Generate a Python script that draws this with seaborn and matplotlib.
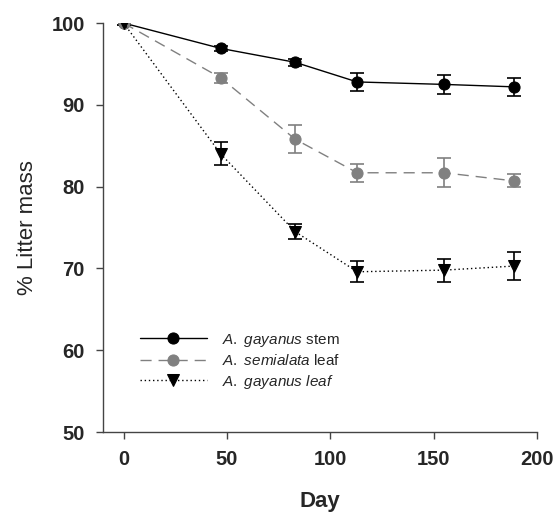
import numpy as np
import pandas as pd
import matplotlib
matplotlib.use('Agg')
import matplotlib.pyplot as plt
import seaborn as sns

# Data
days = [0, 47, 83, 113, 155, 189]
stem_mean = [100.0, 96.9, 95.2, 92.8, 92.5, 92.2]
stem_err = [0.2, 0.3, 0.4, 1.1, 1.15, 1.1]
semi_mean = [100.0, 93.3, 85.8, 81.7, 81.7, 80.7]
semi_err = [0.2, 0.65, 1.7, 1.1, 1.75, 0.8]
leaf_mean = [100.0, 84.0, 74.5, 69.6, 69.8, 70.3]
leaf_err = [0.2, 1.4, 0.9, 1.3, 1.4, 1.7]

labels = [r'$\it{A.\ gayanus}$ stem',
          r'$\it{A.\ semialata}$ leaf',
          r'$\it{A.\ gayanus\ leaf}$']

sns.set_style('ticks')
plt.rcParams['font.family'] = ['Liberation Sans', 'DejaVu Sans']
plt.rcParams['mathtext.fontset'] = 'custom'
plt.rcParams['mathtext.rm'] = 'Liberation Sans'
plt.rcParams['mathtext.it'] = 'Liberation Sans:italic'

fig = plt.figure(figsize=(5.56, 5.12), dpi=100)
ax = fig.add_axes([0.185, 0.156, 0.781, 0.799])

series = [
    (stem_mean, stem_err, 'black', 'o', '-', labels[0]),
    (semi_mean, semi_err, '#808080', 'o', (0, (8, 5)), labels[1]),
    (leaf_mean, leaf_err, 'black', 'v', (0, (1, 2)), labels[2]),
]

for mean, err, col, mk, ls, lab in series:
    df = pd.DataFrame({'day': days, 'mass': mean})
    ax.errorbar(df['day'], df['mass'], yerr=err, fmt='none', ecolor=col,
                elinewidth=1.2, capsize=5, capthick=1.2, zorder=2)
    sns.lineplot(data=df, x='day', y='mass', ax=ax, color=col, marker=mk,
                 linestyle=ls, linewidth=1.0, markersize=8,
                 markeredgecolor=col, markerfacecolor=col, label=lab,
                 zorder=3)

ax.set_xlim(-10, 200)
ax.set_ylim(50, 100)
ax.set_xticks([0, 50, 100, 150, 200])
ax.set_yticks([50, 60, 70, 80, 90, 100])
for lbl in ax.get_xticklabels() + ax.get_yticklabels():
    lbl.set_fontweight('bold')
ax.tick_params(axis='both', labelsize=14.5, length=5, width=1, color='#444444',
               pad=8)

ax.set_xlabel('Day', fontsize=16, fontweight='bold', labelpad=16)
ax.set_ylabel('% Litter mass', fontsize=16, labelpad=10)

for side in ['top', 'right']:
    ax.spines[side].set_visible(False)
for side in ['left', 'bottom']:
    ax.spines[side].set_color('#444444')
    ax.spines[side].set_linewidth(1)

leg = ax.legend(loc='lower left', bbox_to_anchor=(0.071, 0.086), frameon=False,
                fontsize=11, handlelength=4.4, handletextpad=1.0,
                labelspacing=0.3, borderaxespad=0)

fig.savefig('out.png', dpi=100)
